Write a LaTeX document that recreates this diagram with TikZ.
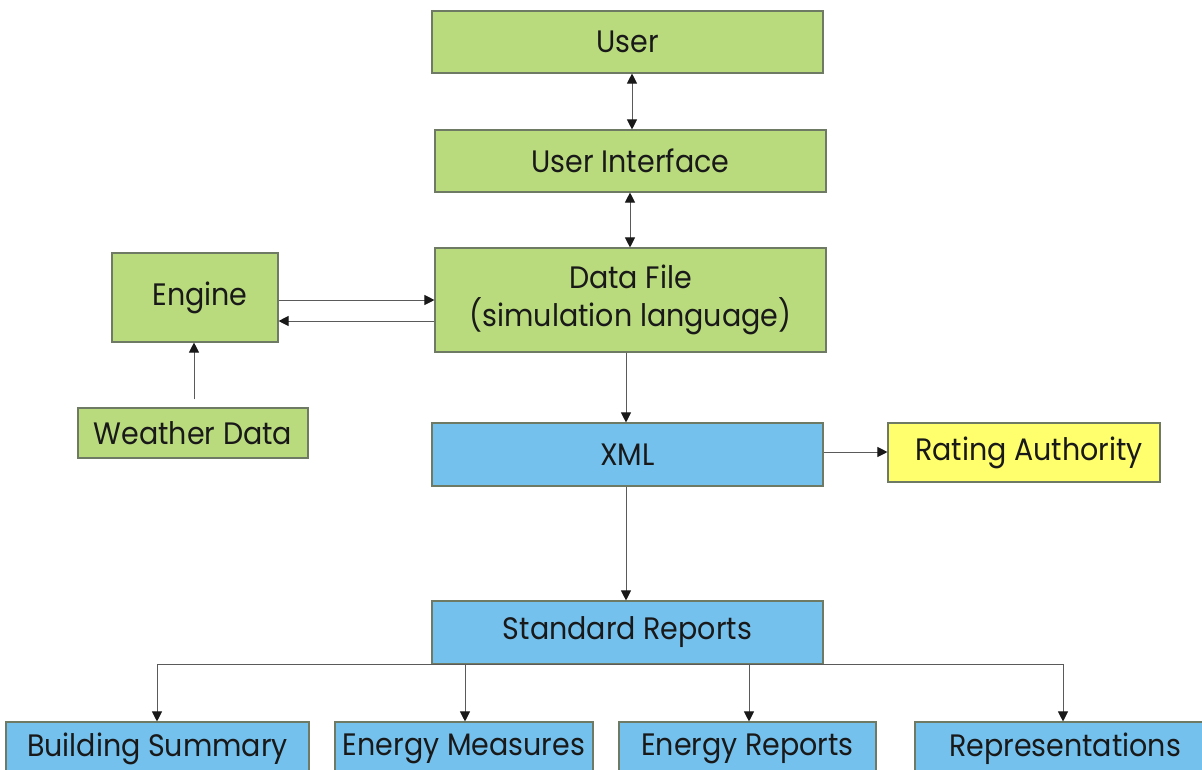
\documentclass[tikz,border=0pt]{standalone}
\usepackage{fontspec}
\setmainfont[FakeStretch=0.92]{Poppins}
\usetikzlibrary{arrows.meta}

\definecolor{boxgreen}{RGB}{185,218,125}
\definecolor{boxblue}{RGB}{117,193,238}
\definecolor{boxyellow}{RGB}{255,255,110}
\definecolor{edgegray}{RGB}{110,122,100}
\definecolor{linegray}{RGB}{90,90,90}
\definecolor{inkdark}{RGB}{25,25,25}

\tikzset{
  x=1pt, y=-1pt,
  block/.style={draw=edgegray, line width=1.1pt, inner sep=0pt, align=center,
    text=inkdark, font=\fontsize{31}{38}\selectfont},
  greenbox/.style={block, fill=boxgreen},
  bluebox/.style={block, fill=boxblue},
  yellowbox/.style={block, fill=boxyellow},
  link/.style={draw=linegray, line width=0.9pt,
    -{Triangle[length=10pt,width=10pt,color=inkdark]}},
  twoway/.style={draw=linegray, line width=0.9pt,
    {Triangle[length=10pt,width=10pt,color=inkdark]}-{Triangle[length=10pt,width=10pt,color=inkdark]}},
  plainline/.style={draw=linegray, line width=0.9pt},
}

\begin{document}
\begin{tikzpicture}
  \clip (0,0) rectangle (1202,769);
  \fill[white] (0,0) rectangle (1202,769);

  % upper chain
  \node[greenbox, minimum width=391pt, minimum height=62pt] (user) at (627.5,42) {User};
  \node[greenbox, minimum width=391pt, minimum height=62pt] (ui) at (630.5,161) {User Interface};
  \node[greenbox, minimum width=391pt, minimum height=104pt] (data) at (630.5,300)
    {Data File\\(simulation language)};

  % engine side
  \node[greenbox, minimum width=166pt, minimum height=89pt] (engine) at (195,297.5) {\hspace*{10pt}Engine};
  \node[greenbox, minimum width=230pt, minimum height=50pt] (weather) at (193,433) {Weather Data};

  % output chain
  \node[bluebox, minimum width=391pt, minimum height=63pt] (xml) at (627.5,454.5) {XML};
  \node[yellowbox, minimum width=272pt, minimum height=59pt] (rating) at (1024,452.5) {\hspace*{10pt}Rating Authority};
  \node[bluebox, minimum width=391pt, minimum height=63pt] (sr) at (627.5,632.5) {Standard Reports};

  % report boxes
  \node[bluebox, minimum width=303pt, minimum height=53pt] (bsum) at (157.5,748.5) {Building Summary};
  \node[bluebox, minimum width=258pt, minimum height=53pt] (emeas) at (464,748.5) {Energy Measures};
  \node[bluebox, minimum width=257pt, minimum height=53pt] (erep) at (747.5,748.5) {Energy Reports};
  \node[bluebox, minimum width=300pt, minimum height=53pt] (repr) at (1065,748.5) {Representations};

  % connectors
  \draw[twoway] (user.south -| 632,0) -- (ui.north -| 632,0);
  \draw[twoway] (ui.south -| 630,0) -- (data.north -| 630,0);
  \draw[link] (engine.east |- 0,300) -- (data.west |- 0,300);
  \draw[link] (data.west |- 0,321) -- (engine.east |- 0,321);
  \draw[link, shorten <=8pt] (weather.north -| 194,0) -- (engine.south -| 194,0);
  \draw[link] (data.south -| 626,0) -- (xml.north -| 626,0);
  \draw[link] (xml.east |- 0,452) -- (rating.west |- 0,452);
  \draw[link] (xml.south -| 626,0) -- (sr.north -| 626,0);

  % fan-out bus under Standard Reports
  \coordinate (busA) at (157,664);
  \coordinate (busB) at (465,664);
  \coordinate (busC) at (749,664);
  \coordinate (busD) at (1063,664);
  \draw[plainline] (busA) -- (busD);
  \draw[link] (busA) -- (bsum.north -| busA);
  \draw[link] (busB) -- (emeas.north -| busB);
  \draw[link] (busC) -- (erep.north -| busC);
  \draw[link] (busD) -- (repr.north -| busD);
\end{tikzpicture}
\end{document}
